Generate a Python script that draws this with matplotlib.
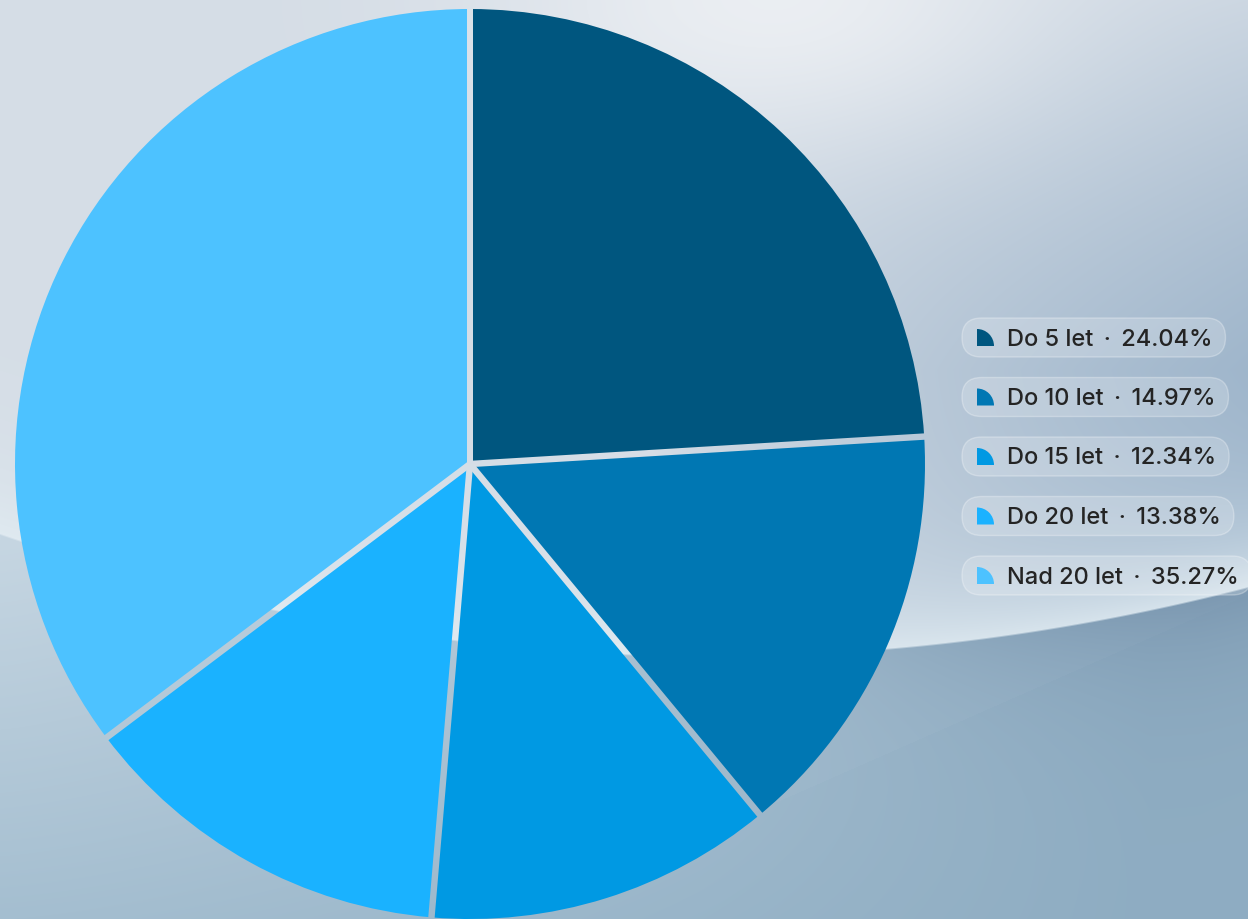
import numpy as np
import matplotlib
matplotlib.use('Agg')
import matplotlib.pyplot as plt
from matplotlib.patches import Polygon, FancyBboxPatch, Wedge

# data
labels = ['Do 5 let', 'Do 10 let', 'Do 15 let', 'Do 20 let', 'Nad 20 let']
shares = [24.04, 14.97, 12.34, 13.38, 35.27]
colors = ['#00567f', '#0077b3', '#0099e3', '#1ab2ff', '#4dc2ff']

W, H = 1248, 920


def hexrgb(h):
    h = h.lstrip('#')
    return np.array([int(h[i:i + 2], 16) / 255 for i in (0, 2, 4)])


def mix(a, b, t):
    t = np.asarray(t)[..., None]
    return a * (1 - t) + b * t


def make_background():
    yy, xx = np.mgrid[0:H, 0:W].astype(float)
    curve = 535 + 0.3427 * xx - 2.406e-4 * xx ** 2

    # upper sheet
    f = np.clip((xx - 650) / 600, 0, 1) * np.clip((yy + 50) / 420, 0, 1)
    up = mix(hexrgb('#d5dde6'), hexrgb('#9db4ca'), f ** 0.8)
    g = np.exp(-((xx - 780) ** 2 / (2 * 200 ** 2) + yy ** 2 / (2 * 110 ** 2)))
    up = mix(up, hexrgb('#f1f3f6'), 0.8 * g)
    d = np.clip(curve - yy, 0, None)
    up = mix(up, hexrgb('#e2edf3'), 0.8 * np.exp(-d / 70))

    # lower sheet
    ty = np.clip((yy - 540) / 380, 0, 1)
    lo = mix(hexrgb('#c6d6e2'), hexrgb('#a4bed0'), ty)
    lo = mix(lo, hexrgb('#8cabc1'), 0.9 * np.clip(xx / 1150, 0, 1) ** 1.3)
    line_y = 810 - (215 / 488) * (xx - 760)
    above = (yy < line_y) & (xx > 500)
    lo = mix(lo, hexrgb('#a9c0d2'), 0.18 * above)
    d2 = np.clip(yy - curve, 0, None)
    s = np.exp(-d2 / 80) * np.clip((xx - 700) / 500, 0, 1)
    lo = mix(lo, hexrgb('#7591ab'), 0.75 * s)

    w = np.clip((curve - yy) / 2 + 0.5, 0, 1)
    return mix(lo, up, w)


def draw_chart():
    plt.rcParams['font.family'] = ['Inter', 'DejaVu Sans']
    fig = plt.figure(figsize=(W / 100, H / 100), dpi=100)
    ax = fig.add_axes([0, 0, 1, 1])
    bg = make_background()
    ax.imshow(bg, extent=(0, W, 0, H), origin='upper', zorder=0)

    cx, cy, r = 470, H - 465, 455
    wedges, _ = ax.pie(shares, colors=colors, startangle=90, counterclock=False,
                       center=(cx, cy), radius=r, frame=True,
                       wedgeprops=dict(linewidth=0, zorder=2))

    # gaps between slices show the background
    cum = np.concatenate([[0], np.cumsum(shares)[:-1]]) / 100
    for c in cum:
        th = np.deg2rad(90 - 360 * c)
        u = np.array([np.cos(th), np.sin(th)])
        n = np.array([-u[1], u[0]]) * 3.2
        p0 = np.array([cx, cy])
        p1 = p0 + u * (r + 6)
        poly = Polygon([p0 + n, p1 + n, p1 - n, p0 - n], closed=True, transform=ax.transData)
        im = ax.imshow(bg, extent=(0, W, 0, H), origin='upper', zorder=3)
        im.set_clip_path(poly)

    ax.set_xlim(0, W)
    ax.set_ylim(0, H)
    ax.set_aspect('auto')
    ax.axis('off')

    # legend pills
    renderer = fig.canvas.get_renderer()
    for i, (lab, val, col) in enumerate(zip(labels, shares, colors)):
        yc = H - (338.5 + 59.5 * i)
        t = ax.text(1007, yc - 1, f'{lab} \u2009·\u2009 {val:.2f}%', fontsize=17,
                    fontweight='medium', color='#242424',
                    va='center', ha='left', zorder=6)
        bb = t.get_window_extent(renderer=renderer)
        x1 = bb.x1 + 13
        pill = FancyBboxPatch((962, yc - 19.5), x1 - 962, 39,
                              boxstyle='round,pad=0,rounding_size=19.5',
                              facecolor=(1, 1, 1, 0.2), edgecolor=(1, 1, 1, 0.28),
                              linewidth=1, zorder=4)
        ax.add_patch(pill)
        ax.add_patch(Wedge((977, yc - 8.5), 17, 0, 90, facecolor=col, edgecolor='none', zorder=5))

    fig.savefig('out.png', dpi=100)


if __name__ == '__main__':
    draw_chart()
